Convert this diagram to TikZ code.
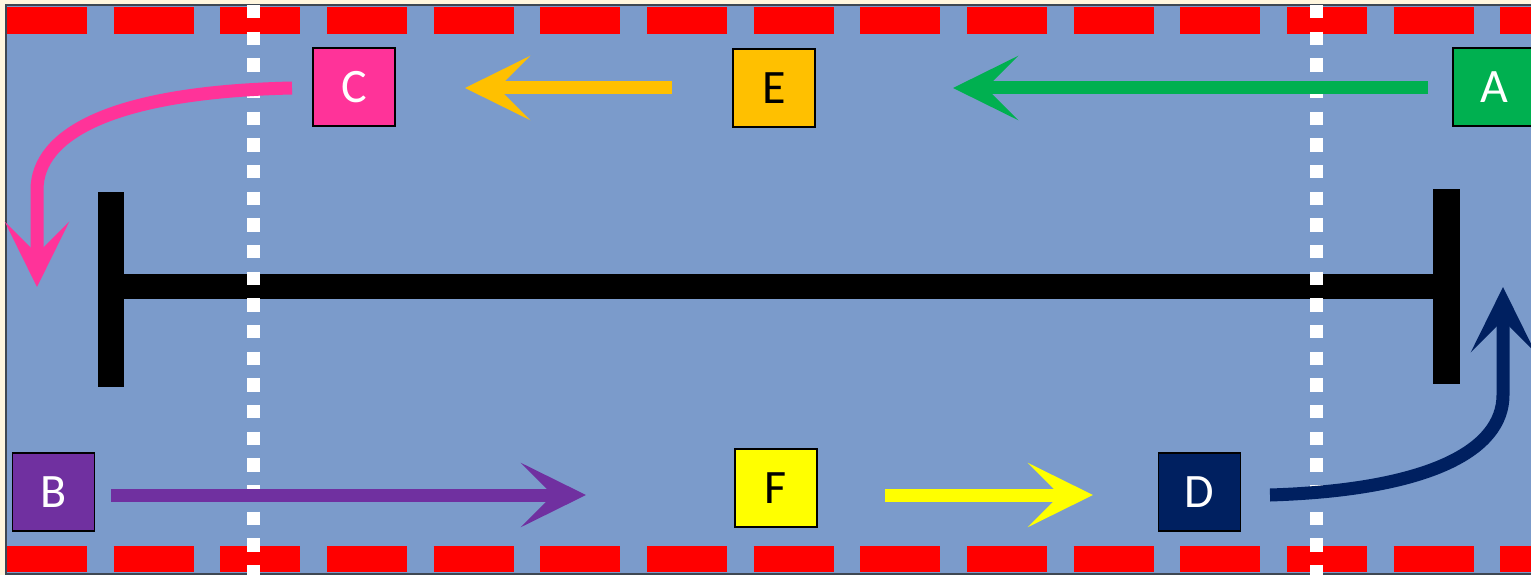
\documentclass[tikz,border=0pt]{standalone}
\usepackage{fontspec}
\setmainfont{Carlito}
\usetikzlibrary{arrows.meta}
\definecolor{cream}{HTML}{FFF6DE}
\definecolor{bgblue}{HTML}{7B9BCB}
\definecolor{frame}{HTML}{3E4752}
\definecolor{redd}{HTML}{FF0000}
\definecolor{cpink}{HTML}{FF3399}
\definecolor{corange}{HTML}{FFC000}
\definecolor{cgreen}{HTML}{00B050}
\definecolor{cpurple}{HTML}{7030A0}
\definecolor{cyellow}{HTML}{FFFF00}
\definecolor{cnavy}{HTML}{002060}
\tikzset{
  box/.style={draw=black, line width=1.5pt, minimum width=82pt, minimum height=78pt, inner sep=0pt, font=\fontsize{48}{52}\selectfont},
  redline/.style={draw=redd, dash pattern=on 80pt off 26.67pt},
  whiteline/.style={draw=white, line width=13pt, dash pattern=on 13.33pt off 13.33pt},
  bigarrow/.style={line width=13pt, -{Stealth[length=65pt, width=64pt, inset=32pt]}},
  beam/.style={fill=black}
}
\begin{document}
\begin{tikzpicture}[x=1pt,y=-1pt]
\useasboundingbox (0,0) rectangle (1531,575);
\clip (0,0) rectangle (1531,575);
\fill[cream] (0,0) rectangle (1531,575);
\fill[bgblue] (6,5) rectangle (1545,573.5);
\draw[frame, line width=2pt] (6,5) rectangle (1545,573.5);
% red dashed borders
\draw[redline, line width=27pt] (7,20.5) -- (1545,20.5);
\draw[redline, line width=26pt] (7,559) -- (1545,559);
% I-beam
\fill[beam] (110,274) rectangle (1448,299);
\fill[beam] (98,192) rectangle (124,387);
\fill[beam] (1433,189) rectangle (1460,384);
% white dotted lines
\draw[whiteline] (253.5,5) -- (253.5,580);
\draw[whiteline] (1316.5,5) -- (1316.5,580);
% boxes
\node[box, fill=cpink, text=white] (C) at (354,87) {C};
\node[box, fill=corange, text=black] (E) at (774,88) {E};
\node[box, fill=cgreen, text=white] (A) at (1494,87) {A};
\node[box, fill=cpurple, text=white] (B) at (53.5,492) {B};
\node[box, fill=cyellow, text=black] (F) at (776,488) {F};
\node[box, fill=cnavy, text=white] (D) at (1199.5,492) {D};
% arrows
\coordinate (gs) at (1428,88);
\coordinate (ge) at (953,88);
\draw[bigarrow, cgreen] (gs) -- (ge);
\coordinate (os) at (672,88);
\coordinate (oe) at (465,88);
\draw[bigarrow, corange] (os) -- (oe);
\coordinate (ps) at (292,88);
\coordinate (pe) at (37,287);
\draw[bigarrow, cpink] (ps) .. controls (110,92) and (37,135) .. (37,190) -- (pe);
\coordinate (us) at (111,495);
\coordinate (ue) at (586,495);
\draw[bigarrow, cpurple] (us) -- (ue);
\coordinate (ys) at (885,495);
\coordinate (ye) at (1093,495);
\draw[bigarrow, cyellow] (ys) -- (ye);
\coordinate (ns) at (1270,495);
\coordinate (ne) at (1503,287);
\draw[bigarrow, cnavy] (ns) .. controls (1430,490) and (1503,450) .. (1503,395) -- (ne);
\end{tikzpicture}
\end{document}
